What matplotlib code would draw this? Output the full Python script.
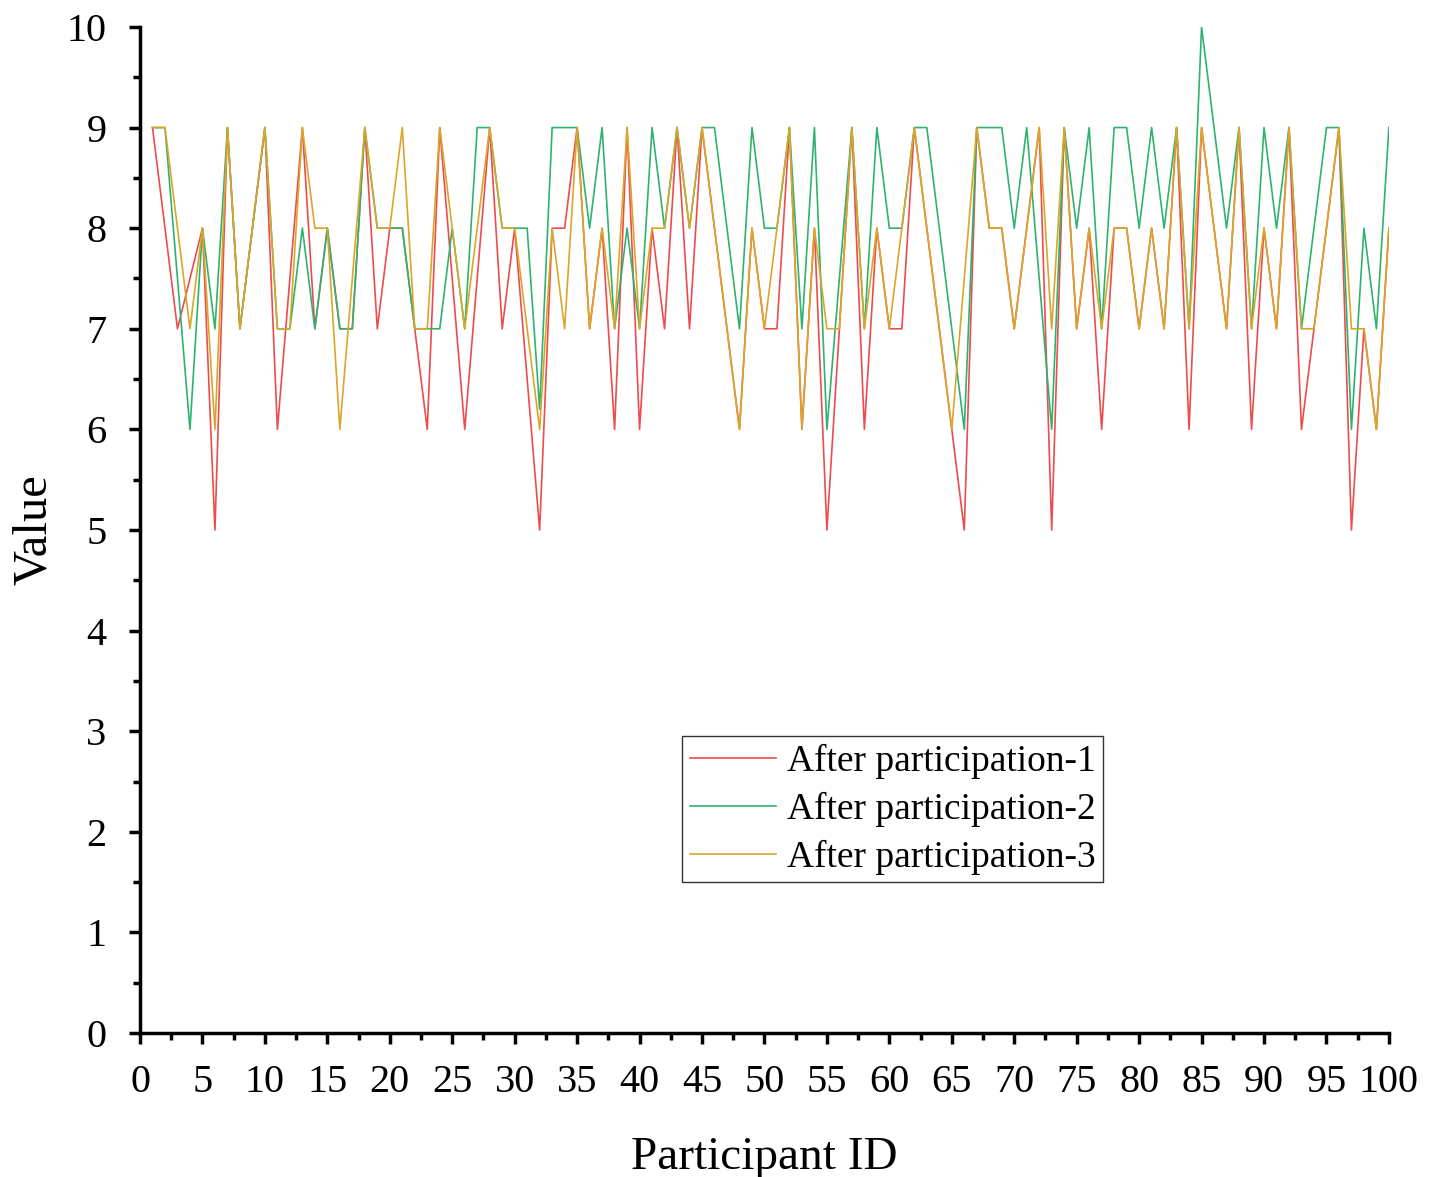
import matplotlib
matplotlib.use("Agg")
import matplotlib.pyplot as plt
from matplotlib.ticker import MultipleLocator

participant_ids = list(range(1, 101))

after_participation_1 = [
    9, 8, 7, 7.5, 8, 5, 9, 7, 8, 9,
    6, 7.5, 9, 7, 8, 7, 7, 9, 7, 8,
    8, 7, 6, 9, 7.5, 6, 7.5, 9, 7, 8,
    6.5, 5, 8, 8, 9, 7, 8, 6, 9, 6,
    8, 7, 9, 7, 9, 8, 7, 6, 8, 7,
    7, 9, 6, 8, 5, 7, 9, 6, 8, 7,
    7, 9, 8, 7, 6, 5, 9, 8, 8, 7,
    8, 9, 5, 9, 7, 8, 6, 8, 8, 7,
    8, 7, 9, 6, 9, 8, 7, 9, 6, 8,
    7, 9, 6, 7, 8, 9, 5, 7, 6, 8,
]

after_participation_2 = [
    9, 9, 7.5, 6, 8, 7, 9, 7, 8, 9,
    7, 7, 8, 7, 8, 7, 7, 9, 8, 8,
    8, 7, 7, 7, 8, 7, 9, 9, 8, 8,
    8, 6.2, 9, 9, 9, 8, 9, 7, 8, 7,
    9, 8, 9, 8, 9, 9, 8, 7, 9, 8,
    8, 9, 7, 9, 6, 7.5, 9, 7, 9, 8,
    8, 9, 9, 8, 7, 6, 9, 9, 9, 8,
    9, 7.5, 6, 9, 8, 9, 7, 9, 9, 8,
    9, 8, 9, 7, 10, 9, 8, 9, 7, 9,
    8, 9, 7, 8, 9, 9, 6, 8, 7, 9,
]

after_participation_3 = [
    9, 9, 8, 7, 8, 6, 9, 7, 8, 9,
    7, 7, 9, 8, 8, 6, 7.5, 9, 8, 8,
    9, 7, 7, 9, 8, 7, 8, 9, 8, 8,
    7, 6, 8, 7, 9, 7, 8, 7, 9, 7,
    8, 8, 9, 8, 9, 8, 7, 6, 8, 7,
    8, 9, 6, 8, 7, 7, 9, 7, 8, 7,
    8, 9, 8, 7, 6, 7.5, 9, 8, 8, 7,
    8, 9, 7, 9, 7, 8, 7, 8, 8, 7,
    8, 7, 9, 7, 9, 8, 7, 9, 7, 8,
    7, 9, 7, 7, 8, 9, 7, 7, 6, 8,
]

series_labels = ["After participation-1", "After participation-2", "After participation-3"]
series_colors = ["#EE4B4E", "#2DB36F", "#D9A62A"]

plt.rcParams['font.family'] = ['Liberation Serif', 'DejaVu Serif']

fig = plt.figure(figsize=(14.36, 11.77), dpi=100)
ax = fig.add_axes([0.0975, 0.1223, 0.8697, 0.8548])

for vals, lab, col in zip([after_participation_1, after_participation_2, after_participation_3],
                          series_labels, series_colors):
    ax.plot(participant_ids, vals, color=col, lw=1.2, label=lab)

ax.set_xlim(0, 100)
ax.set_ylim(0, 10)
ax.xaxis.set_major_locator(MultipleLocator(5))
ax.xaxis.set_minor_locator(MultipleLocator(2.5))
ax.yaxis.set_major_locator(MultipleLocator(1))
ax.yaxis.set_minor_locator(MultipleLocator(0.5))

for s in ["top", "right"]:
    ax.spines[s].set_visible(False)
for s in ["left", "bottom"]:
    ax.spines[s].set_linewidth(2.5)

ax.tick_params(axis='both', which='major', direction='out', length=8, width=2.5,
               labelsize=29)
ax.tick_params(axis='x', which='major', pad=14)
ax.tick_params(axis='y', which='major', pad=16)
ax.tick_params(axis='both', which='minor', direction='out', length=5, width=2.5)

ax.set_xlabel("Participant ID", fontsize=34, labelpad=26)
ax.set_ylabel("Value", fontsize=35, labelpad=8)

leg = ax.legend(loc='lower left', bbox_to_anchor=(0.434, 0.150), fontsize=27,
                frameon=True, fancybox=False, edgecolor='black', handlelength=2.3,
                handletextpad=0.3, borderpad=0.2, labelspacing=0.34, borderaxespad=0)
leg.get_frame().set_linewidth(1.0)

fig.savefig("out.png", dpi=100)
